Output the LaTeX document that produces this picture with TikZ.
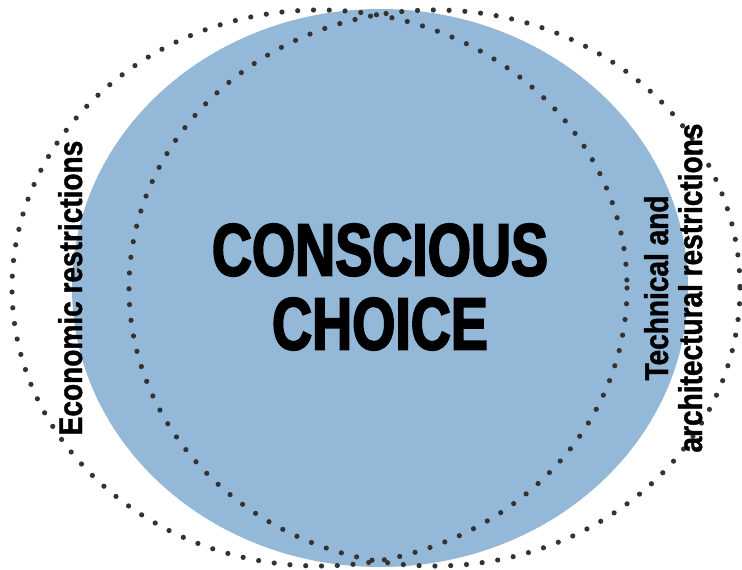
\documentclass[tikz,border=0pt]{standalone}
\usepackage{fontspec}
\newfontfamily\headfont{Liberation Sans Bold}[FakeStretch=0.75,FakeBold=2.5]
\newfontfamily\sidefont{Liberation Sans Bold}[FakeStretch=0.85,FakeBold=1.2]
\definecolor{choiceblue}{HTML}{94B8D7}
\definecolor{dotgray}{HTML}{333333}
\tikzset{
  dotring/.style={draw=dotgray,line width=5.2pt,line cap=round,dash pattern=on 0pt off 15.8pt},
  sidelabel/.style={font=\sidefont\fontsize{33}{33}\selectfont,rotate=90,anchor=base,inner sep=0pt},
}
\begin{document}
\begin{tikzpicture}[x=1pt,y=-1pt]
  \useasboundingbox (0,0) rectangle (742,570);
  \fill[choiceblue] (380,288) ellipse [x radius=308,y radius=279];
  \draw[dotring] (319.5,288) ellipse [x radius=307.5,y radius=278];
  \draw[dotring] (434.5,288) ellipse [x radius=305.5,y radius=278];
  \node[font=\headfont\fontsize{74}{74}\selectfont,align=center,inner sep=0pt] (choice) at (380,287) {CONSCIOUS\\CHOICE};
  \node[sidelabel] (econ) at (82,288) {Economic restrictions};
  \node[sidelabel] (tech) at (668,288) {Technical and};
  \node[sidelabel] (arch) at (702,288) {architectural restrictions};
\end{tikzpicture}
\end{document}
